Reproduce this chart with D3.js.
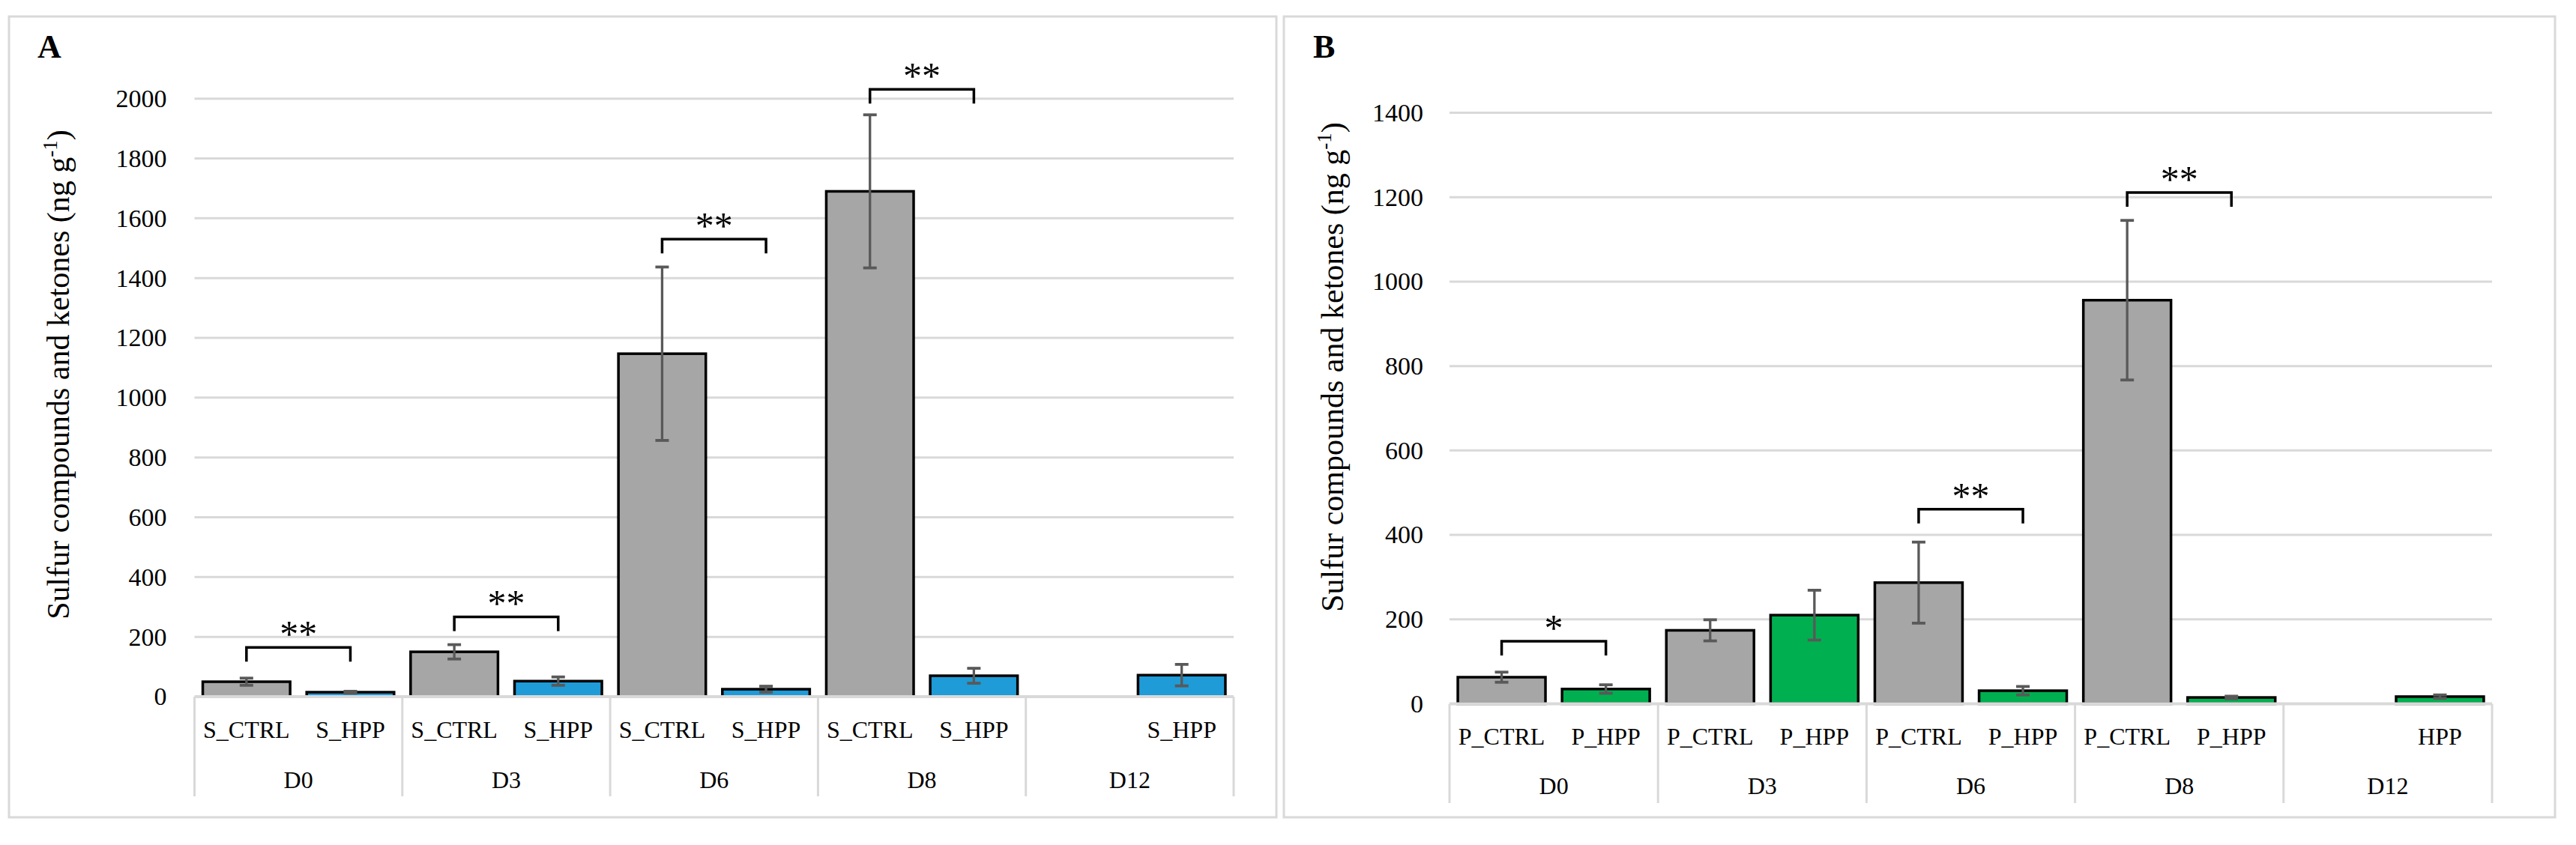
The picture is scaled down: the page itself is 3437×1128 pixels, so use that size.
<!DOCTYPE html>
<html><head><meta charset="utf-8">
<script src="https://cdn.jsdelivr.net/npm/d3@7"></script>
<style>
html,body{margin:0;padding:0;background:#fff;}
svg{display:block;}
text{font-family:"Liberation Serif","Times New Roman",serif;fill:#000;}
</style>
</head><body>
<svg id="chart" width="3437" height="1128"></svg>
<script>
// ---------- data ----------
const groups = ["D0", "D3", "D6", "D8", "D12"];

// Panel A (S samples)
const aCtrlLabels = ["S_CTRL", "S_CTRL", "S_CTRL", "S_CTRL", ""];
const aHppLabels  = ["S_HPP", "S_HPP", "S_HPP", "S_HPP", "S_HPP"];
const aCtrl    = [50, 150, 1147, 1690, null];
const aCtrlErr = [12, 24, 290, 256, null];
const aHpp     = [15, 52, 25, 70, 72];
const aHppErr  = [3, 14, 10, 25, 36];
const aTicks   = [0, 200, 400, 600, 800, 1000, 1200, 1400, 1600, 1800, 2000];
const aSigGroups = ["D0", "D3", "D6", "D8"];
const aSigLevels = [165, 267, 1530, 2031];
const aSigMarks  = ["**", "**", "**", "**"];

// Panel B (P samples)
const bCtrlLabels = ["P_CTRL", "P_CTRL", "P_CTRL", "P_CTRL", ""];
const bHppLabels  = ["P_HPP", "P_HPP", "P_HPP", "P_HPP", "HPP"];
const bCtrl    = [63, 174, 287, 956, null];
const bCtrlErr = [12, 25, 96, 189, null];
const bHpp     = [35, 210, 31, 15, 17];
const bHppErr  = [10, 59, 10, 3, 4];
const bTicks   = [0, 200, 400, 600, 800, 1000, 1200, 1400];
const bSigGroups = ["D0", "D6", "D8"];
const bSigLevels = [148, 461, 1211];
const bSigMarks  = ["*", "**", "**"];

const yTitle = "Sulfur compounds and ketones (ng g";

// ---------- drawing ----------
const svg = d3.select("#chart");
const GRID = "#D9D9D9";

function drawPanel(cfg) {
  const g = svg.append("g");
  // panel frame
  g.append("rect")
    .attr("x", cfg.frame[0]).attr("y", cfg.frame[1])
    .attr("width", cfg.frame[2] - cfg.frame[0]).attr("height", cfg.frame[3] - cfg.frame[1])
    .attr("fill", "none").attr("stroke", GRID).attr("stroke-width", 3);

  g.append("text").attr("x", cfg.letterX).attr("y", 77)
    .attr("font-size", 44).attr("font-weight", "bold").text(cfg.letter);

  const y = d3.scaleLinear().domain([0, d3.max(cfg.ticks)]).range([cfg.y0, cfg.yTop]);
  const x = d3.scaleBand().domain(groups).range([cfg.x0, cfg.x1]);
  const inner = d3.scaleBand().domain(["ctrl", "hpp"]).range([0, x.bandwidth()])
    .paddingInner(0.134).paddingOuter(0.067);

  // gridlines
  g.append("g").selectAll("line").data(cfg.ticks.filter(t => t > 0)).join("line")
    .attr("x1", cfg.x0).attr("x2", cfg.x1)
    .attr("y1", d => y(d)).attr("y2", d => y(d))
    .attr("stroke", GRID).attr("stroke-width", 3);

  // y tick labels
  const ax = g.append("g").attr("transform", `translate(${cfg.x0},0)`)
    .call(d3.axisLeft(y).tickValues(cfg.ticks).tickSize(0).tickPadding(cfg.tickPad).tickFormat(d3.format("d")));
  ax.select(".domain").remove();
  ax.selectAll("text").attr("font-size", 34).attr("font-family", "Liberation Serif").attr("fill", "#000");

  // y title
  const tx = g.append("text")
    .attr("transform", `translate(${cfg.titleX},${cfg.titleY}) rotate(-90)`)
    .attr("text-anchor", "middle").attr("font-size", 42);
  tx.append("tspan").text(yTitle);
  tx.append("tspan").attr("font-size", 27).attr("dy", -16).text("-1");
  tx.append("tspan").attr("dy", 16).text(")");

  // bar records
  const rows = [];
  groups.forEach((grp, i) => {
    rows.push({grp, key: "ctrl", v: cfg.ctrl[i], e: cfg.ctrlErr[i], label: cfg.ctrlLabels[i], fill: "#A6A6A6"});
    rows.push({grp, key: "hpp", v: cfg.hpp[i], e: cfg.hppErr[i], label: cfg.hppLabels[i], fill: cfg.hppColor});
  });
  const cx = d => x(d.grp) + inner(d.key) + inner.bandwidth() / 2;

  g.append("g").selectAll("rect").data(rows.filter(d => d.v != null)).join("rect")
    .attr("x", d => x(d.grp) + inner(d.key) + 1.75)
    .attr("width", inner.bandwidth() - 3.5)
    .attr("y", d => y(d.v))
    .attr("height", d => y(0) - y(d.v))
    .attr("fill", d => d.fill).attr("stroke", "#000").attr("stroke-width", 3.5);

  // category axis baseline
  g.append("line").attr("x1", cfg.x0).attr("x2", cfg.x1)
    .attr("y1", y(0)).attr("y2", y(0)).attr("stroke", GRID).attr("stroke-width", 4);

  // group separators
  const seps = groups.map(d => x(d)).concat([cfg.x1]);
  g.append("g").selectAll("line").data(seps).join("line")
    .attr("x1", d => d).attr("x2", d => d)
    .attr("y1", y(0)).attr("y2", cfg.sepBottom)
    .attr("stroke", GRID).attr("stroke-width", 3);

  // category labels
  g.append("g").selectAll("text").data(rows).join("text")
    .attr("x", cx).attr("y", cfg.lab1Y).attr("text-anchor", "middle")
    .attr("font-size", 32).text(d => d.label);
  g.append("g").selectAll("text").data(groups).join("text")
    .attr("x", d => x(d) + x.bandwidth() / 2).attr("y", cfg.lab2Y).attr("text-anchor", "middle")
    .attr("font-size", 32).text(d => d);

  // error bars
  const eb = g.append("g").attr("stroke", "#595959").attr("stroke-width", 3.3);
  rows.filter(d => d.v != null && d.e != null).forEach(d => {
    const c = cx(d);
    eb.append("line").attr("x1", c).attr("x2", c).attr("y1", y(d.v - d.e)).attr("y2", y(d.v + d.e));
    eb.append("line").attr("x1", c - 9).attr("x2", c + 9).attr("y1", y(d.v - d.e)).attr("y2", y(d.v - d.e)).attr("stroke-width", 3.8);
    eb.append("line").attr("x1", c - 9).attr("x2", c + 9).attr("y1", y(d.v + d.e)).attr("y2", y(d.v + d.e)).attr("stroke-width", 3.8);
  });

  // significance brackets
  cfg.sigGroups.forEach((grp, i) => {
    const xl = x(grp) + inner("ctrl") + inner.bandwidth() / 2;
    const xr = x(grp) + inner("hpp") + inner.bandwidth() / 2;
    const yy = y(cfg.sigLevels[i]);
    g.append("path")
      .attr("d", `M${xl},${yy + 19}V${yy}H${xr}V${yy + 19}`)
      .attr("fill", "none").attr("stroke", "#000").attr("stroke-width", 3.5);
    g.append("text").attr("x", (xl + xr) / 2).attr("y", yy - 1)
      .attr("text-anchor", "middle").attr("font-size", 50).text(cfg.sigMarks[i]);
  });
}

drawPanel({
  frame: [12, 22, 1703, 1091], letter: "A", letterX: 50,
  x0: 259.5, x1: 1646, y0: 930, yTop: 131.7, tickPad: 37,
  titleX: 92, titleY: 500, sepBottom: 1063, lab1Y: 985, lab2Y: 1052,
  ticks: aTicks, ctrl: aCtrl, ctrlErr: aCtrlErr, hpp: aHpp, hppErr: aHppErr,
  ctrlLabels: aCtrlLabels, hppLabels: aHppLabels, hppColor: "#1F9BD7",
  sigGroups: aSigGroups, sigLevels: aSigLevels, sigMarks: aSigMarks
});

drawPanel({
  frame: [1713, 22, 3409, 1091], letter: "B", letterX: 1752,
  x0: 1934, x1: 3325, y0: 939.5, yTop: 150.5, tickPad: 35,
  titleX: 1792, titleY: 490, sepBottom: 1072, lab1Y: 994, lab2Y: 1060,
  ticks: bTicks, ctrl: bCtrl, ctrlErr: bCtrlErr, hpp: bHpp, hppErr: bHppErr,
  ctrlLabels: bCtrlLabels, hppLabels: bHppLabels, hppColor: "#00B050",
  sigGroups: bSigGroups, sigLevels: bSigLevels, sigMarks: bSigMarks
});
</script>
</body></html>
